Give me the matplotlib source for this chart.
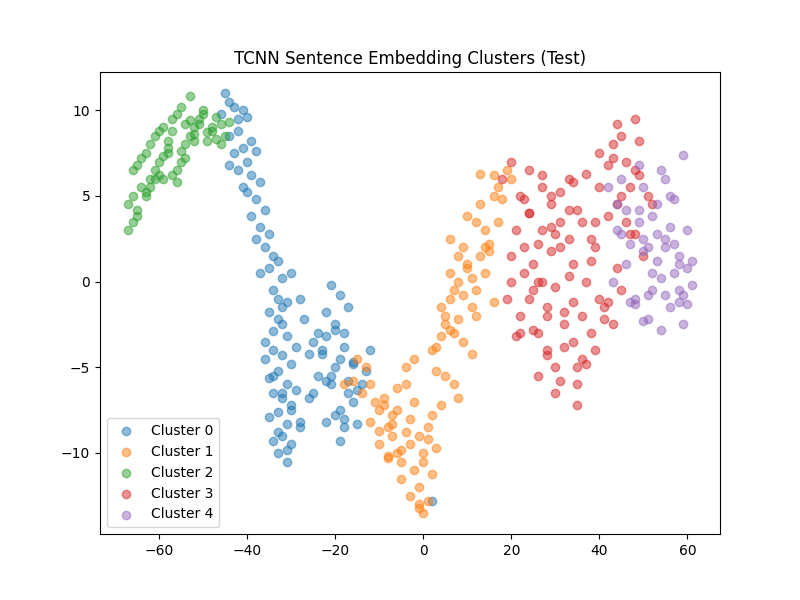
import matplotlib
matplotlib.use("Agg")
import matplotlib.pyplot as plt

# point coordinates (approximate)
c0_x = [-45, -44, -46, -43, -42, -41, -40, -42, -44, -39, -41, -43, -40, -38, -42, -44, -39, -37, -41, -40,
        -38, -36, -39, -37, -35, -38, -36, -34, -33, -35, -37, -32, -34, -33, -31, -35, -33, -32, -34, -31,
        -36, -34, -32, -30, -33, -35, -31, -29, -34, -32, -30, -33, -35, -31, -28, -32, -34, -30, -33, -31,
        -36, -34, -32, -30, -28, -33, -31, -29, -32, -30, -27, -25, -23, -22, -24, -26, -21, -20, -19, -18,
        -20, -22, -19, -17, -21, -18, -16, -20, -22, -18, -16, -17, -19, -15, -21, -23, -24, -20, -18, -25,
        -14, -16, -13, -17, -19, -12, -15, -22, -26, -28, 2]
c0_y = [11, 10.5, 9.8, 10.2, 9.5, 10, 9.6, 8.8, 8.5, 8.2, 7.8, 7.5, 7, 7.6, 6.5, 6.8, 6.2, 5.8, 5.5, 5.2,
        4.8, 4.2, 3.8, 3.2, 2.8, 2.5, 2, 1.5, 1.2, 0.8, 0.5, 0.2, -0.5, -1, -1.2, -1.8, -2.2, -2.5, -2.9, -3.2,
        -3.5, -4, -4.3, -4.8, -5.2, -5.6, -6, -6.3, -6.5, -6.8, -7.2, -7.6, -7.9, -8.3, -8.5, -9, -9.3, -9.5, -10, -10.5,
        -4.5, -5.5, -6.5, -7.5, -8.2, -8.8, -9.8, -3.8, -1.5, 0.5, -2.2, -3.5, -4, -3.2, -5.5, -6.8, -6, -5, -4.5, -3.8,
        -2.5, -1.8, -0.8, -1.5, -0.2, -3, -4.7, -7.8, -8.2, -8.5, -7, -5.8, -9.3, -6.3, -5.5, -4.2, -3, -2.8, -8, -6.5,
        -6, -4.8, -5.2, -6.5, -7.5, -4, -8.3, -5.8, -4.2, -1, -12.8]

c1_x = [-15, -13, -12, -14, -11, -10, -9, -12, -8, -7, -10, -6, -5, -8, -4, -3, -7, -2, -1, -5,
        -3, -9, -6, -4, -2, 0, -1, 1, 2, -3, 0, 1, -2, -4, -6, -8, -10, -1, 1, 3,
        2, 3, 4, 5, 6, 4, 7, 6, 8, 5, 7, 9, 8, 10, 6, 9, 11, 10, 12, 8,
        11, 13, 12, 14, 10, 13, 15, 14, 16, 12, 15, 17, 16, 18, 14, 19, 17, 20, 16, 13,
        -18, -16, 4, 8, -1, 0, 2, 5, 7, 3, 9, 11, 6, -5, -7]
c1_y = [-4.5, -5, -6, -6.5, -7, -7.5, -6.8, -8.2, -8.5, -9, -9.5, -10, -10.5, -10.2, -8.8, -9.5, -7.8, -11, -12, -11.5,
        -12.5, -7.2, -6.2, -5, -4.5, -13.5, -13, -12.8, -11.2, -8, -10, -9.2, -7, -6, -7.5, -10.3, -8.7, -13.2, -8.5, -9.7,
        -4, -5.2, -3.2, -2, -1, -1.5, -0.5, 0.5, 0, -2.5, -3, -0.8, 1.5, 1, 2.5, 2, 0.2, 3.8, 3.5, -2.2,
        -1.5, 1.5, -2, 2, 0.8, 4.5, 2.2, 3, 5, -0.5, 1.8, 5.5, 6.2, 4.8, 0.5, 6.5, 3.5, 6, -1.2, 6.3,
        -6, -5.8, -7.2, -6.8, -9, -10.5, -7.8, -5.5, -6, -3.8, -3.5, -4.2, -2.8, -9.8, -8.3]

c2_x = [-67, -66, -67, -66, -65, -66, -64, -65, -63, -64, -62, -63, -61, -62, -60, -61, -59, -60, -58, -59,
        -57, -58, -56, -57, -55, -56, -54, -55, -53, -54, -52, -53, -51, -52, -50, -51, -49, -50, -48, -47,
        -46, -48, -47, -45, -46, -44, -62, -60, -58, -56, -54, -52, -57, -59, -61, -63, -65, -53, -55, -49]
c2_y = [3, 3.5, 4.5, 5, 4.2, 6.5, 5.5, 6.8, 5, 7.2, 6, 7.5, 6.5, 8, 7, 8.5, 6, 8.8, 7.5, 9,
        6.2, 8.2, 5.8, 9.5, 7, 9.8, 8, 10.2, 8.5, 9.2, 9, 10.8, 9.5, 8.6, 10, 9.2, 8.2, 9.8, 9, 8.3,
        9.2, 8.8, 9.6, 8.5, 8, 9.3, 5.5, 6.2, 7.8, 6.5, 7.2, 8.2, 8.8, 7.3, 6, 5.2, 3.8, 9.4, 7.6, 8.7]

c3_x = [18, 20, 22, 24, 21, 23, 25, 27, 19, 22, 26, 28, 30, 24, 27, 29, 31, 33, 20, 23,
        25, 28, 32, 34, 36, 22, 26, 30, 35, 38, 40, 24, 27, 31, 34, 37, 41, 43, 45, 29,
        33, 36, 39, 42, 44, 47, 49, 26, 30, 34, 38, 40, 43, 46, 48, 51, 28, 32, 35, 37,
        41, 44, 47, 50, 21, 25, 29, 33, 36, 39, 42, 45, 48, 23, 27, 31, 35, 38, 20, 24,
        28, 32, 30, 34, 37, 26, 29, 33, 31, 35, 39, 42, 40, 44, 46, 49, 52, 48, 45, 43]
c3_y = [6, 7, 5, 4, 3, 2, 1, 0, -1, -2, -3, -4, -5, 6.5, 5.5, 4.5, 3.5, 2.5, 1.5, 0.5,
        -0.5, -1.5, -2.5, -3.5, -4.5, -3, -5.5, -6.5, -5, -3, -1, 4, 3, 2, 1, 0, -1.5, -2.5, -0.5, 5,
        6, 3.5, 2, 3.8, 4.5, 5.5, 6.2, 0, -0.3, -1.2, 1.2, 7.5, 8, 7, 6.5, 5, -2, -3.8, -7.2, -4.8,
        -2.2, 0.8, 2.8, 1.5, -3.2, -2.8, 1.8, 0.3, -2, 3.5, 6.8, 8.5, 9.5, 4.8, 6.2, 5.2, 4.2, 2.5, 0, -1,
        -4.3, -1.8, 2.8, 5.8, 6.3, 2.2, 3.2, 4.2, -5.8, -6, -4, -1.2, 5.5, 9.2, 3.5, 8.2, 4.5, 2.8, 5, 7.2]

c4_x = [42, 44, 46, 48, 50, 52, 54, 56, 58, 60, 43, 45, 47, 49, 51, 53, 55, 57, 59, 61,
        48, 50, 52, 54, 56, 58, 60, 47, 49, 51, 53, 55, 57, 59, 46, 50, 54, 58, 52, 56,
        60, 53, 55, 57, 49, 51, 45, 59, 61, 44, 55, 58, 50]
c4_y = [5.5, 3, 1, -1, 2.5, 0.5, -2.8, -1.5, 1, 3, 0, 6, -1.2, 3.5, -2.2, 4.5, 6, 2.2, -0.8, -0.2,
        -1.3, 1.8, 3.8, 0.2, 5, -0.5, 0.8, 2.2, 4.2, -0.8, 1.2, 2.5, 4.8, 7.4, 4.2, 5.5, 6.5, -1.2, -0.5, 3.2,
        -1.3, 2.8, -0.8, 0.5, 6.8, 2, 2.8, -2.5, 1.2, 4.5, 2, 1.5, -2.3]

clusters = [(c0_x, c0_y), (c1_x, c1_y), (c2_x, c2_y), (c3_x, c3_y), (c4_x, c4_y)]

fig, ax = plt.subplots(figsize=(8, 6), dpi=100)
for i, (xs, ys) in enumerate(clusters):
    ax.scatter(xs, ys, alpha=0.5, label=f"Cluster {i}")

ax.set_title("TCNN Sentence Embedding Clusters (Test)")
ax.legend(loc="lower left")
plt.savefig("out.png")
